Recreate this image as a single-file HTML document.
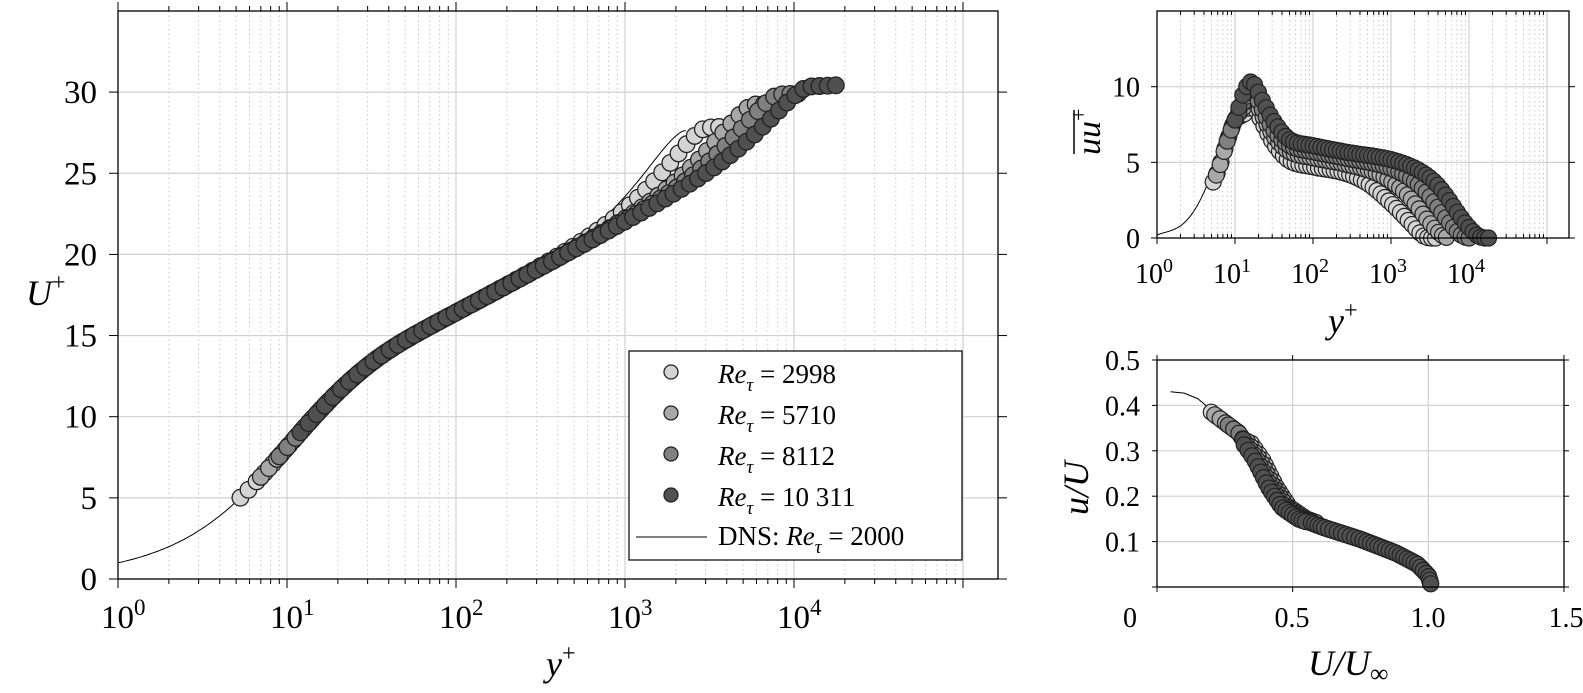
<!DOCTYPE html>
<html><head><meta charset="utf-8"><style>
html,body{margin:0;padding:0;background:#fff;}
svg{display:block;font-family:"Liberation Serif",serif;}
</style></head><body>
<svg id="s" width="1583" height="693" xmlns="http://www.w3.org/2000/svg"></svg>
<script>
const S=document.getElementById('s');let h='';
const C=['#d4d4d4','#a8a8a8','#808080','#505050'];
function L(x1,y1,x2,y2,st){h+=`<line x1="${x1}" y1="${y1}" x2="${x2}" y2="${y2}" ${st}/>`;}
function T(x,y,t,a,sz,extra){h+=`<text x="${x}" y="${y}" font-size="${sz||24}" text-anchor="${a||'middle'}" ${extra||''}>${t}</text>`;}
const lg=Math.log10;
// ---------- MAIN ----------
const mx=y=>118+169*lg(y), my=u=>579-16.23*u;
const mR=998,mT=11,mB=579,mL=118;
for(let d=0;d<6;d++)for(let k=2;k<10;k++){let x=mx(k*Math.pow(10,d));if(x>=mR)continue;L(x,mT,x,mB,'stroke="#c8c8c8" stroke-width="1" stroke-dasharray="1.5,3"');L(x,mT,x,mT-5,'stroke="#000"');L(x,mB,x,mB+5,'stroke="#000"');}
for(let d=0;d<=5;d++){let x=mx(Math.pow(10,d));if(x>mR)continue;if(d>0)L(x,mT,x,mB,'stroke="#d0d0d0" stroke-width="1.2"');L(x,mT,x,mT-9,'stroke="#000"');L(x,mB,x,mB+9,'stroke="#000"');if(d<5)h+=`<text x="${x-17}" y="628" font-size="33">10<tspan dy="-13" font-size="23">${d}</tspan></text>`;}
for(let u=0;u<=30;u+=5){let y=my(u);if(u>0)L(mL,y,mR,y,'stroke="#d0d0d0" stroke-width="1.2"');L(mL-9,y,mL,y,'stroke="#000"');L(mR,y,mR+9,y,'stroke="#000"');T(97,y+11,u,'end',33);}
function reich(y){return 2.44*Math.log(1+0.41*y)+7.3*(1-Math.exp(-y/11)-(y/11)*Math.exp(-y/3));}
function U(y,dl,dw){let yy=Math.min(y,dl);let s=Math.sin(Math.PI/2*yy/dl);return reich(yy)+dw*s*s+(y>dl?0.45*lg(y/dl):0);}
let p='';for(let e=0;e<=lg(2300);e+=0.01){let y=Math.pow(10,e);p+=(p?'L':'M')+mx(y).toFixed(1)+','+my(U(y,2200,3.7)).toFixed(1);}
h+=`<path d="${p}" fill="none" stroke="#000" stroke-width="1"/>`;
const ser=[[5.3,3000,3.15,4000],[7,5700,3.0,7500],[9,8000,2.8,11000],[12,12000,2.3,18000]];
ser.forEach((s,i)=>{for(let e=lg(s[0]);e<=lg(s[3])+0.001;e+=0.048){let y=Math.pow(10,e);h+=`<circle cx="${mx(y).toFixed(1)}" cy="${my(U(y,s[1],s[2])).toFixed(1)}" r="8.3" fill="${C[i]}" stroke="#222" stroke-width="1.3"/>`;}});
h+=`<rect x="${mL}" y="${mT}" width="${mR-mL}" height="${mB-mT}" fill="none" stroke="#000" stroke-width="1.3"/>`;
h+=`<rect x="629" y="351" width="333" height="209" fill="#fff" stroke="#000" stroke-width="1.2"/>`;
const lab=['2998','5710','8112','10 311'];
for(let i=0;i<4;i++){let y=375+41*i;h+=`<circle cx="671" cy="${y-3}" r="7" fill="${C[i]}" stroke="#222" stroke-width="1.3"/>`;h+=`<text x="718" y="${y+8}" font-size="27"><tspan font-style="italic">Re</tspan><tspan dy="8" font-size="19" font-style="italic">τ</tspan><tspan dy="-8"> = ${lab[i]}</tspan></text>`;}
L(636,537,707,537,'stroke="#000" stroke-width="1"');
h+=`<text x="718" y="545" font-size="27">DNS: <tspan font-style="italic">Re</tspan><tspan dy="8" font-size="19" font-style="italic">τ</tspan><tspan dy="-8"> = 2000</tspan></text>`;
h+=`<text x="26" y="305" font-size="36" font-style="italic">U<tspan dy="-15" font-size="24" font-style="normal">+</tspan></text>`;
h+=`<text x="546" y="676" font-size="36" font-style="italic">y<tspan dy="-15" font-size="24" font-style="normal">+</tspan></text>`;
// ---------- TOP RIGHT ----------
const tx=y=>1157+78*lg(y), ty=v=>238-15.13*v;
const tL=1157,tR=1569,tT=11,tB=238;
for(let d=0;d<6;d++)for(let k=2;k<10;k++){let x=tx(k*Math.pow(10,d));if(x>=tR)continue;L(x,tT,x,tB,'stroke="#c8c8c8" stroke-dasharray="1.5,3"');L(x,tT,x,tT+4,'stroke="#000"');L(x,tB,x,tB-4,'stroke="#000"');}
for(let d=0;d<=5;d++){let x=tx(Math.pow(10,d));if(x>tR)continue;if(d>0)L(x,tT,x,tB,'stroke="#d0d0d0" stroke-width="1.2"');L(x,tB,x,tB+6,'stroke="#000"');if(d<5)h+=`<text x="${x-22}" y="283" font-size="28">10<tspan dy="-11" font-size="20">${d}</tspan></text>`;}
for(let v=0;v<=10;v+=5){let y=ty(v);if(v>0)L(tL,y,tR,y,'stroke="#d0d0d0" stroke-width="1.2"');L(tL-6,y,tL,y,'stroke="#000"');L(tR,y,tR+6,y,'stroke="#000"');T(1140,y+10,v,'end',28);}
function interp(pts,x){const n=pts.length;if(x<=pts[0][0])return pts[0][1];if(x>=pts[n-1][0])return pts[n-1][1];
 for(let i=1;i<n;i++)if(x<=pts[i][0]){const a=pts[i-1],b=pts[i];const t=(x-a[0])/(b[0]-a[0]);
  const p0=i>1?pts[i-2]:a,p3=i<n-1?pts[i+1]:b;const m1=(b[1]-p0[1])/(b[0]-p0[0])*(b[0]-a[0]);const m2=(p3[1]-a[1])/(p3[0]-a[0])*(b[0]-a[0]);
  const t2=t*t,t3=t2*t;return (2*t3-3*t2+1)*a[1]+(t3-2*t2+t)*m1+(-2*t3+3*t2)*b[1]+(t3-t2)*m2;}}
const dns=[[0,0.2],[0.3,0.8],[0.5,2],[0.7,4.2],[0.9,7],[1.05,8.4],[1.18,8.7],[1.35,7.6],[1.6,5.6],[2,4.5],[2.5,4],[2.9,3],[3.15,1.5],[3.3,0.4],[3.4,0],[3.6,0]];
p='';for(let e=0;e<=3.45;e+=0.01){p+=(p?'L':'M')+tx(Math.pow(10,e)).toFixed(1)+','+ty(Math.max(0,interp(dns,e))).toFixed(1);}
h+=`<path d="${p}" fill="none" stroke="#000" stroke-width="1"/>`;
const up=[
 {s:0.72,e:3.6,pk:8.8,pl:4.6,d:3.45},
 {s:0.76,e:3.75,pk:9.3,pl:5.2,d:3.7},
 {s:0.9,e:4.0,pk:9.7,pl:5.6,d:3.95},
 {s:1.0,e:4.25,pk:10.3,pl:6.0,d:4.15}];
up.forEach((o,i)=>{const sh=o.d-3.45;const pts=[[0.6,2.5],[0.72,3.7],[0.8,4.7],[0.9,6.4],[1.0,7.8],[1.12,o.pk-0.6],[1.22,o.pk],[1.35,o.pk-1.2],[1.5,o.pk-2.6],[1.7,o.pl+0.5],[2.0,o.pl+0.1],[2.4,o.pl-0.3],[2.7+sh*0.6,o.pl-1.0],[3.0+sh*0.8,o.pl-2.3],[3.25+sh,1.0],[3.4+sh,0.2],[3.5+sh,0],[3.7+sh,0]];
 for(let e=o.s;e<=o.e+0.001;e+=0.05){h+=`<circle cx="${tx(Math.pow(10,e)).toFixed(1)}" cy="${ty(Math.max(0,interp(pts,e))).toFixed(1)}" r="8" fill="${C[i]}" stroke="#222" stroke-width="1.2"/>`;}});
h+=`<rect x="${tL}" y="${tT}" width="${tR-tL}" height="${tB-tT}" fill="none" stroke="#000" stroke-width="1.3"/>`;
h+=`<text transform="translate(1100,155) rotate(-90)" font-size="34" font-style="italic">uu<tspan dy="-14" font-size="22" font-style="normal">+</tspan></text>`;
L(1074,110,1074,154,'stroke="#000" stroke-width="1.5"');
h+=`<text x="1328" y="333" font-size="36" font-style="italic">y<tspan dy="-15" font-size="24" font-style="normal">+</tspan></text>`;
// ---------- BOTTOM RIGHT ----------
const bx=x=>1157+271.3*x, by=v=>587-454*v;
const bL=1157,bR=1564,bT=360,bB=587;
for(let x of [0.5,1.0]){L(bx(x),bT,bx(x),bB,'stroke="#d0d0d0" stroke-width="1.2"');}
for(let x of [0,0.5,1.0,1.5]){L(bx(x),bB,bx(x),bB+5,'stroke="#000"');L(bx(x),bT,bx(x),bT-5,'stroke="#000"');}
T(1130,627,'0','middle',28);T(1292,627,'0.5','middle',28);T(1428,627,'1.0','middle',28);T(1566,627,'1.5','middle',28);
for(let v of [0.1,0.2,0.3,0.4,0.5]){let y=by(v);L(bL,y,bR,y,'stroke="#d0d0d0" stroke-width="1.2"');L(bL-5,y,bL,y,'stroke="#000"');L(bR,y,bR+5,y,'stroke="#000"');T(1140,y+10,v.toFixed(1),'end',28);}
L(bL-5,bB,bL,bB,'stroke="#000"');L(bR,bB,bR+5,bB,'stroke="#000"');
const dl=[[0.05,0.43],[0.1,0.427],[0.15,0.415],[0.2,0.39],[0.3,0.345]];
p='';dl.forEach((q,i)=>{p+=(i?'L':'M')+bx(q[0]).toFixed(1)+','+by(q[1]).toFixed(1);});
h+=`<path d="${p}" fill="none" stroke="#000" stroke-width="1"/>`;
const bc=[[0,0.2,0.385],[0.08,0.3,0.34],[0.16,0.37,0.28],[0.24,0.42,0.22],[0.32,0.47,0.175],[0.4,0.53,0.15],[0.52,0.62,0.13],[0.65,0.75,0.105],[0.8,0.88,0.075],[0.9,0.96,0.05],[0.96,1.0,0.025],[1,1.01,0.005]];
function bi(t,k){for(let i=1;i<bc.length;i++)if(t<=bc[i][0]){let a=bc[i-1],b=bc[i],u=(t-a[0])/(b[0]-a[0]);return a[k]+(b[k]-a[k])*u;}return bc[bc.length-1][k];}
const st=[[0,0.02],[0.01,0.01],[0.05,0],[0.1,-0.01]];
st.forEach((o,i)=>{for(let t=o[0];t<=1.0001;t+=0.016){let x=bi(t,1),v=bi(t,2);let sh=(t>0.1&&t<0.45)?o[1]:0;h+=`<circle cx="${bx(x+sh).toFixed(1)}" cy="${by(v).toFixed(1)}" r="8" fill="${C[i]}" stroke="#222" stroke-width="1.2"/>`;}});
h+=`<rect x="${bL}" y="${bT}" width="${bR-bL}" height="${bB-bT}" fill="none" stroke="#000" stroke-width="1.3"/>`;
h+=`<text transform="translate(1088,515) rotate(-90)" font-size="36" font-style="italic">u/U</text>`;
h+=`<text x="1308" y="675" font-size="36" font-style="italic">U/U<tspan dy="7" font-size="26" font-style="normal">∞</tspan></text>`;
S.innerHTML=h;
</script>
</body></html>
